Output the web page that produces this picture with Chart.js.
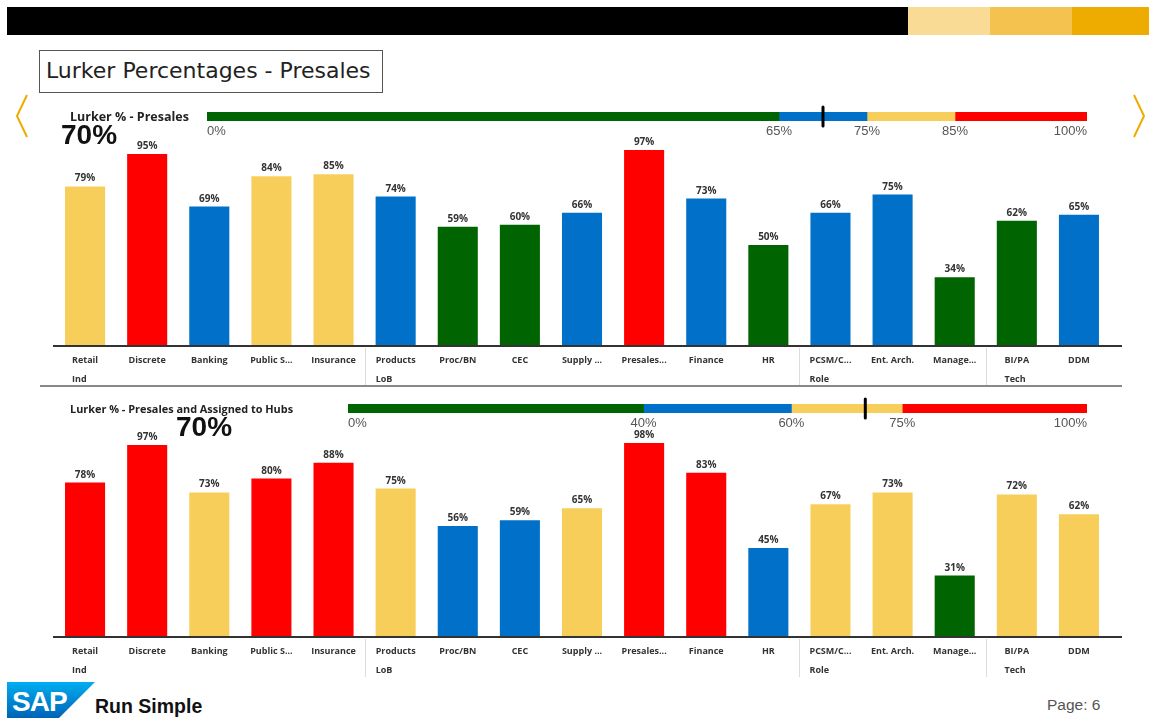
<!DOCTYPE html>
<html><head><meta charset="utf-8">
<script src="https://cdn.jsdelivr.net/npm/chart.js@4"></script>
<style>
body{margin:0;width:1149px;height:726px;position:relative;background:#fff;overflow:hidden;font-family:"Liberation Sans",Arial,sans-serif;}
.abs{position:absolute}
.hd{position:absolute;font-family:"Open Sans",sans-serif;font-weight:bold;color:#222;line-height:14px;white-space:nowrap}
.big{position:absolute;font-family:"Liberation Sans",Arial,sans-serif;font-weight:bold;font-size:28px;color:#111;line-height:30px;white-space:nowrap}
</style></head><body>
<div class="abs" style="left:7px;top:7px;width:901px;height:28px;background:#000"></div>
<div class="abs" style="left:908px;top:7px;width:82px;height:28px;background:#F9DB95"></div>
<div class="abs" style="left:990px;top:7px;width:82px;height:28px;background:#F4C24F"></div>
<div class="abs" style="left:1072px;top:7px;width:77px;height:28px;background:#EEAB00"></div>

<div class="abs" style="left:39px;top:50px;width:336px;height:41px;border:1px solid #555;line-height:39px;font-family:'DejaVu Sans',sans-serif;font-size:22px;color:#222;padding-left:6px;white-space:nowrap">Lurker Percentages - Presales</div>

<svg class="abs" style="left:10px;top:92px" width="24" height="48"><polyline points="17,3 7,24 17,45" fill="none" stroke="#F0AB00" stroke-width="2"/></svg>
<svg class="abs" style="left:1125px;top:92px" width="24" height="48"><polyline points="9,3 19,24 9,45" fill="none" stroke="#F0AB00" stroke-width="2"/></svg>

<div class="abs" style="left:0;top:120px;width:1149px;height:266px"><canvas id="bars1" width="1149" height="266"></canvas></div>
<div class="abs" style="left:40px;top:385px;width:1082px;height:2px;background:#888"></div>
<div class="abs" style="left:0;top:415px;width:1149px;height:262px"><canvas id="bars2" width="1149" height="262"></canvas></div>
<div class="abs" style="left:204px;top:100px;width:886px;height:39px"><canvas id="gauge1" width="886" height="39"></canvas></div>
<div class="abs" style="left:345px;top:392px;width:745px;height:39px"><canvas id="gauge2" width="745" height="39"></canvas></div>

<div class="hd" style="left:70px;top:110px;font-size:12.5px">Lurker % - Presales</div>
<div class="big" style="left:61px;top:120px">70%</div>
<div class="hd" style="left:70px;top:402px;font-size:10.9px">Lurker % - Presales and Assigned to Hubs</div>
<div class="big" style="left:176px;top:412px">70%</div>

<svg class="abs" style="left:7px;top:682px" width="88" height="36">
<defs><linearGradient id="sg" x1="0" y1="0" x2="0" y2="1"><stop offset="0" stop-color="#00AEEF"/><stop offset="1" stop-color="#0063B8"/></linearGradient></defs>
<polygon points="0,0 88,0 52,36 0,36" fill="url(#sg)"/>
<text x="5" y="29" font-family="Liberation Sans" font-weight="bold" font-size="28" fill="#fff" letter-spacing="-1">SAP</text>
</svg>
<div class="abs" style="left:95px;top:694px;font-weight:bold;font-size:19.5px;color:#111;line-height:24px">Run Simple</div>
<div class="abs" style="left:1047px;top:696px;font-size:15.5px;color:#555;line-height:18px">Page: 6</div>

<script>
const categories = ["Retail","Discrete","Banking","Public S...","Insurance","Products","Proc/BN","CEC","Supply ...","Presales...","Finance","HR","PCSM/C...","Ent. Arch.","Manage...","BI/PA","DDM"];
const groupLabels = ["Ind","LoB","Role","Tech"];
const groupStarts = [0,5,12,15];
const presalesValues = [79,95,69,84,85,74,59,60,66,97,73,50,66,75,34,62,65];
const hubsValues = [78,97,73,80,88,75,56,59,65,98,83,45,67,73,31,72,62];
const presalesStops = [0,65,75,85,100];
const hubsStops = [0,40,60,75,100];
const presalesOverall = 70;
const hubsOverall = 70;

const bandColors = ['#006400','#0070C8','#F8CE5A','#FF0000'];
function colorFor(v, s){
  if (v < s[1]) return bandColors[0];
  if (v <= s[2]) return bandColors[1];
  if (v <= s[3]) return bandColors[2];
  return bandColors[3];
}

const barDecor = {
  id:'barDecor',
  afterDatasetsDraw(chart){
    const {ctx, chartArea} = chart;
    const x = chart.scales.x;
    const meta = chart.getDatasetMeta(0);
    const vals = chart.data.datasets[0].data;
    ctx.save();
    ctx.strokeStyle = '#333'; ctx.lineWidth = 2;
    ctx.beginPath(); ctx.moveTo(chartArea.left-1, chartArea.bottom); ctx.lineTo(1122, chartArea.bottom); ctx.stroke();
    ctx.font = 'bold 10px "Open Sans"';
    ctx.fillStyle = '#333';
    ctx.textAlign = 'center';
    ctx.textBaseline = 'alphabetic';
    meta.data.forEach((bar,i)=>{ ctx.fillText(vals[i]+'%', bar.x, bar.y-5); });
    ctx.strokeStyle = '#dcdcdc'; ctx.lineWidth = 1;
    groupStarts.slice(1).forEach(g=>{
      const px = Math.round((x.getPixelForValue(g-1)+x.getPixelForValue(g))/2)+0.5;
      ctx.beginPath(); ctx.moveTo(px, chartArea.bottom+2); ctx.lineTo(px, chartArea.bottom+40); ctx.stroke();
    });
    ctx.font = 'bold 9px "Open Sans"';
    ctx.textAlign = 'left'; ctx.textBaseline = 'middle';
    groupStarts.forEach((g,k)=>{
      const w = ctx.measureText(categories[g]).width;
      ctx.fillText(groupLabels[k], x.getPixelForValue(g)-w/2, chartArea.bottom+33);
    });
    ctx.restore();
  }
};

function makeBars(id, values, stops){
  new Chart(document.getElementById(id), {
    type:'bar',
    data:{labels:categories, datasets:[{data:values, backgroundColor:values.map(v=>colorFor(v,stops)), barPercentage:0.645, categoryPercentage:1}]},
    options:{
      responsive:false, animation:false, events:[],
      layout:{padding:{left:54,right:39,top:24,bottom:0}},
      plugins:{legend:{display:false}, tooltip:{enabled:false}},
      scales:{
        y:{display:false, min:0, max:100},
        x:{grid:{display:false, drawTicks:false}, border:{display:false},
           ticks:{font:{family:'Open Sans', weight:'bold', size:9}, color:'#333', padding:9, maxRotation:0, autoSkip:false},
           afterFit(s){ s.height = 40; }}
      }
    },
    plugins:[barDecor]
  });
}

const gaugeMarker = {
  id:'gaugeMarker',
  afterDatasetsDraw(chart, args, opts){
    const {ctx, chartArea} = chart;
    const px = chart.scales.x.getPixelForValue(opts.value);
    ctx.save();
    ctx.strokeStyle = '#000'; ctx.lineWidth = 3; ctx.lineCap = 'round';
    ctx.beginPath(); ctx.moveTo(px, chartArea.top-5); ctx.lineTo(px, chartArea.bottom+5); ctx.stroke();
    ctx.restore();
  }
};

function makeGauge(id, stops, overall){
  const datasets = bandColors.map((c,i)=>({data:[stops[i+1]-stops[i]], backgroundColor:c, barPercentage:1, categoryPercentage:1}));
  new Chart(document.getElementById(id), {
    type:'bar',
    data:{labels:[''], datasets},
    options:{
      indexAxis:'y', responsive:false, animation:false, events:[],
      layout:{padding:{top:12,left:0,right:0,bottom:0}},
      plugins:{legend:{display:false}, tooltip:{enabled:false}, gaugeMarker:{value:overall}},
      scales:{
        y:{display:false, stacked:true},
        x:{stacked:true, min:0, max:100, grid:{display:false, drawTicks:false}, border:{display:false},
           ticks:{align:'inner', autoSkip:false, maxRotation:0, color:'#555', font:{family:'Liberation Sans', size:13}, padding:3, callback:v=>v+'%'},
           afterBuildTicks(s){ s.ticks = stops.map(v=>({value:v})); },
           afterFit(s){ s.height = 18; }}
      }
    },
    plugins:[gaugeMarker]
  });
}

makeBars('bars1', presalesValues, presalesStops);
makeBars('bars2', hubsValues, hubsStops);
makeGauge('gauge1', presalesStops, presalesOverall);
makeGauge('gauge2', hubsStops, hubsOverall);
</script>
</body></html>
